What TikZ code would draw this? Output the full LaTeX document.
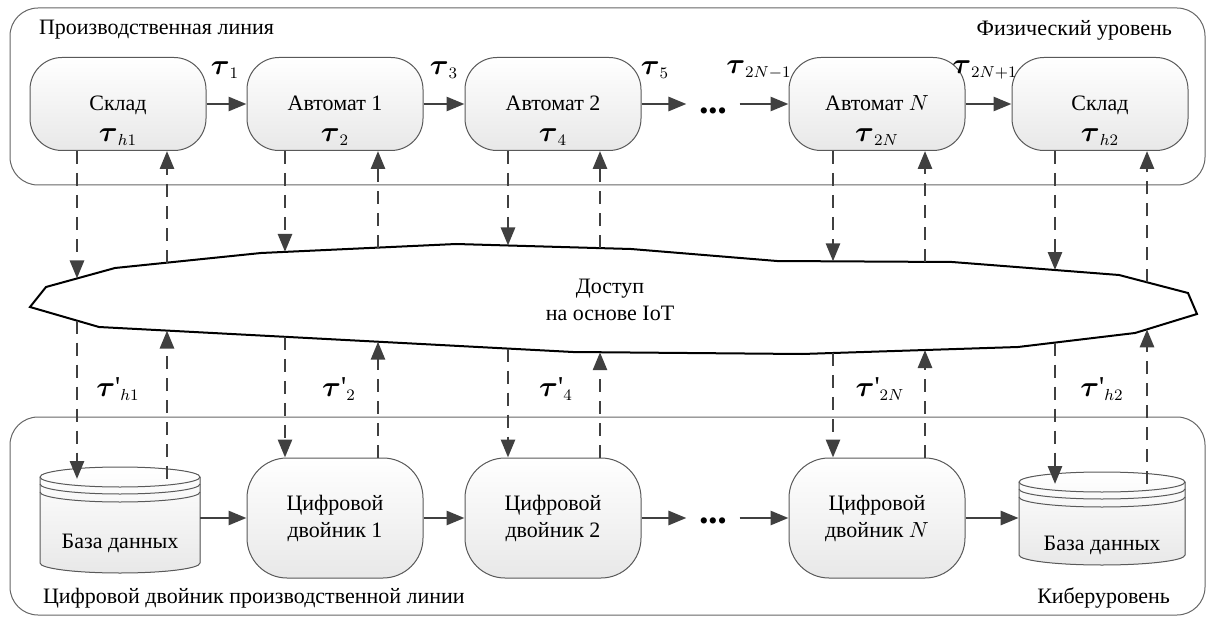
\documentclass[tikz,border=0pt]{standalone}
\usepackage{amsmath}
\usepackage{fontspec}
\setmainfont{Liberation Serif}
\usetikzlibrary{arrows.meta,intersections}
\newcommand{\tu}{\mbox{\Large$\boldsymbol{\tau}$}}
\newcommand{\tpr}[1]{$\tu\mbox{\Large\textquotesingle}_{#1}$}
\newcommand{\lowstrut}{\rule{0pt}{24pt}}

\begin{document}
\begin{tikzpicture}[x=0.5pt,y=0.5pt,
	every node/.style={font=\rmfamily\fontsize{11}{13.5}\selectfont},
	basebox/.style={draw=black!65,line width=0.5pt,top color=white,bottom color=black!9,minimum width=88pt,align=center,inner sep=0pt},
	unitbox/.style={basebox,rounded corners=16pt,minimum height=46.5pt},
	twinbox/.style={basebox,rounded corners=20pt,minimum height=60pt},
	layer/.style={draw=black!60,line width=0.5pt,rounded corners=14pt},
	iotzone/.style={draw=black,line width=1pt,fill=white},
	dbbody/.style={draw=black!65,line width=0.5pt,top color=white,bottom color=black!9},
	dbarc/.style={draw=black!65,line width=0.5pt},
	dbtxt/.style={inner sep=0pt},
	flow/.style={-{Triangle[length=9pt,width=7pt]},line width=1.4pt,draw=black!75},
	link/.style={flow,dash pattern=on 6.5pt off 4.5pt},
	tlab/.style={font=\large},
	gapdots/.style={font=\fontsize{13}{13}\selectfont,inner xsep=6.25pt}]
	\useasboundingbox (0,0) rectangle (1210,617);
	% two levels
	\draw[layer] (10,432) rectangle (1205,609);
	\draw[layer] (10,2) rectangle (1205,200);
	\node[anchor=west] (prod) at (32,587) {Производственная линия};
	\node[anchor=east] (phys) at (1179,587) {Физический уровень};
	\node[anchor=west] (twinline) at (36,19) {Цифровой двойник производственной линии};
	\node[anchor=east] (cyber) at (1177,19) {Киберуровень};
	% physical line
	\node[unitbox] (sk1) at (118,513) {\lowstrut Склад\\[2pt]{\large$\tu_{h1}$}};
	\node[unitbox] (au1) at (335,513) {\lowstrut Автомат 1\\[2pt]{\large$\tu_2$}};
	\node[unitbox] (au2) at (553,513) {\lowstrut Автомат 2\\[2pt]{\large$\tu_4$}};
	\node[unitbox] (auN) at (877,513) {\lowstrut Автомат $N$\\[2pt]{\large$\tu_{2N}$}};
	\node[unitbox] (sk2) at (1100,513) {\lowstrut Склад\\[2pt]{\large$\tu_{h2}$}};
	\node[gapdots] (dots1) at (713,503) {\textbullet\textbullet\textbullet};
	\draw[flow] (sk1) -- (au1);
	\draw[flow] (au1) -- (au2);
	\draw[flow] (au2.east) -- (au2.east -| dots1.west);
	\draw[flow] (dots1.east |- auN.west) -- (auN.west);
	\draw[flow] (auN) -- (sk2);
	\node[tlab] (t1) at (225,547) {$\tu_1$};
	\node[tlab] (t3) at (444,547) {$\tu_3$};
	\node[tlab] (t5) at (655,547) {$\tu_5$};
	\node[tlab] (t2Nm) at (759,547) {$\tu_{2N-1}$};
	\node[tlab] (t2Np) at (985,547) {$\tu_{2N+1}$};
	% cyber line
	\foreach \nm/\cx/\rx/\yt/\yb/\ty in {db1/120/80/140/54/74, db2/1102/83/135/62/72}{
		\filldraw[dbbody] (\cx-\rx,\yt) -- (\cx-\rx,\yb) arc[start angle=180,end angle=360,x radius=\rx,y radius=10] -- (\cx+\rx,\yt) arc[start angle=0,end angle=180,x radius=\rx,y radius=10] -- cycle;
		\foreach \dy in {0,7,15}
			\draw[dbarc] (\cx-\rx,\yt-\dy) arc[start angle=180,end angle=360,x radius=\rx,y radius=10];
		\node[dbtxt,minimum width=\rx pt] (\nm) at (\cx,\ty) {База данных};
		\coordinate (\nm-top) at (\cx,\yt-2);
	}
	\node[twinbox] (cd1) at (335,99) {Цифровой\\двойник 1};
	\node[twinbox] (cd2) at (553,99) {Цифровой\\двойник 2};
	\node[twinbox] (cdN) at (877,99) {Цифровой\\двойник $N$};
	\foreach \nm in {cd1,cd2,cdN}
		\coordinate (\nm-top) at (\nm.north);
	\node[gapdots] (dots2) at (713,93) {\textbullet\textbullet\textbullet};
	\draw[flow] (db1.east |- cd1) -- (cd1);
	\draw[flow] (cd1) -- (cd2);
	\draw[flow] (cd2.east) -- (cd2.east -| dots2.west);
	\draw[flow] (dots2.east |- cdN.west) -- (cdN.west);
	\draw[flow] (cdN) -- (cdN -| db2.west);
	\node[tlab] (p1) at (118,228) {\tpr{h1}};
	\node[tlab] (p2) at (339,228) {\tpr{2}};
	\node[tlab] (p4) at (556,228) {\tpr{4}};
	\node[tlab] (p2N) at (880,228) {\tpr{2N}};
	\node[tlab] (ph2) at (1102,228) {\tpr{h2}};
	% IoT access
	\draw[iotzone,name path=iot] (30,310) -- (46,330) -- (115,349) -- (261,364) -- (456,373) -- (631,368) -- (777,356) -- (952,355) -- (1119,342) -- (1188,324) -- (1197,303) -- (1135,284) -- (1018,270) -- (802,263) -- (573,265) -- (99,290) -- cycle;
	\node[align=center] (iotlbl) at (610,317) {Доступ\\на основе IoT};
	\foreach \phy/\cyb/\xd/\xu in {sk1/db1/77/167, au1/cd1/285/378, au2/cd2/508/600, auN/cdN/833/925, sk2/db2/1055/1147}{
		\path[name path=down] (\xd,617) -- (\xd,0);
		\path[name path=up] (\xu,617) -- (\xu,0);
		\path[name intersections={of=iot and down,sort by=down,by={\phy-d1,\phy-d2}}];
		\path[name intersections={of=iot and up,sort by=up,by={\phy-u1,\phy-u2}}];
		\draw[link] (\phy.south -| \phy-d1) -- (\phy-d1);
		\draw[link] (\phy-u1) -- (\phy.south -| \phy-u1);
		\draw[link] (\phy-d2) -- (\cyb-top -| \phy-d2);
		\draw[link] (\cyb-top -| \phy-u2) -- (\phy-u2);
	}
\end{tikzpicture}
\end{document}
